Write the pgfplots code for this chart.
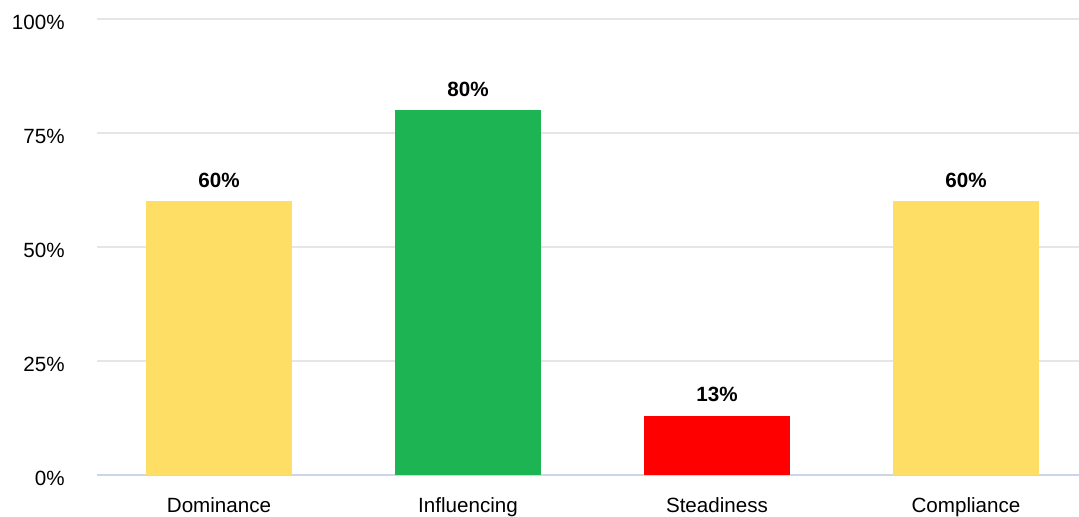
\documentclass[border=0pt]{standalone}
\usepackage{fontspec}
\setmainfont{Liberation Sans}
\usepackage{pgfplots}
\pgfplotsset{compat=1.18}
\definecolor{barYellow}{HTML}{FFDE66}
\definecolor{barGreen}{HTML}{1DB554}
\definecolor{barRed}{HTML}{FF0000}
\definecolor{gridGray}{HTML}{E6E6E6}
\definecolor{axisLine}{HTML}{CCD6EB}
\begin{document}
\begin{tikzpicture}[x=1pt,y=1pt]
\begin{axis}[
  name=ax,
  scale only axis,
  width=491pt, height=228pt,
  xmin=-0.49, xmax=3.454,
  ymin=0, ymax=100,
  ytick={0,25,50,75,100},
  yticklabel={\pgfmathprintnumber{\tick}\%},
  xtick={0,1,2,3},
  xticklabels={Dominance,Influencing,Steadiness,Compliance},
  axis line style={draw=none},
  axis x line*=bottom,
  axis y line*=left,
  major tick length=0pt,
  tick style={draw=none},
  ymajorgrids,
  grid style={gridGray, line width=1pt},
  extra y ticks={0},
  extra y tick labels={},
  extra y tick style={grid style={axisLine, line width=1pt}},
  /pgf/number format/assume math mode=true,
  tick label style={font=\fontsize{10.3}{12}\selectfont, text=black},
  yticklabel style={anchor=east, inner sep=0pt, xshift=-16pt, yshift=-1.5pt},
  xticklabel style={anchor=north, inner sep=0pt, yshift=-11pt},
  ybar, bar width=73pt, bar shift=0pt,
  nodes near coords={\pgfmathprintnumber{\pgfplotspointmeta}\%},
  nodes near coords style={font=\bfseries\fontsize{10.3}{12}\selectfont, anchor=base, inner sep=0pt, yshift=7pt, text=black},
  clip=false,
]
\addplot[fill=barYellow, draw=none] coordinates {(0,60)};
\addplot[fill=barGreen, draw=none] coordinates {(1,80)};
\addplot[fill=barRed, draw=none] coordinates {(2,13)};
\addplot[fill=barYellow, draw=none] coordinates {(3,60)};
\end{axis}
\pgfresetboundingbox
\path[use as bounding box] ([xshift=-48.5pt, yshift=-20.5pt]ax.south west) rectangle ([yshift=9.5pt]ax.north east);
\end{tikzpicture}
\end{document}
